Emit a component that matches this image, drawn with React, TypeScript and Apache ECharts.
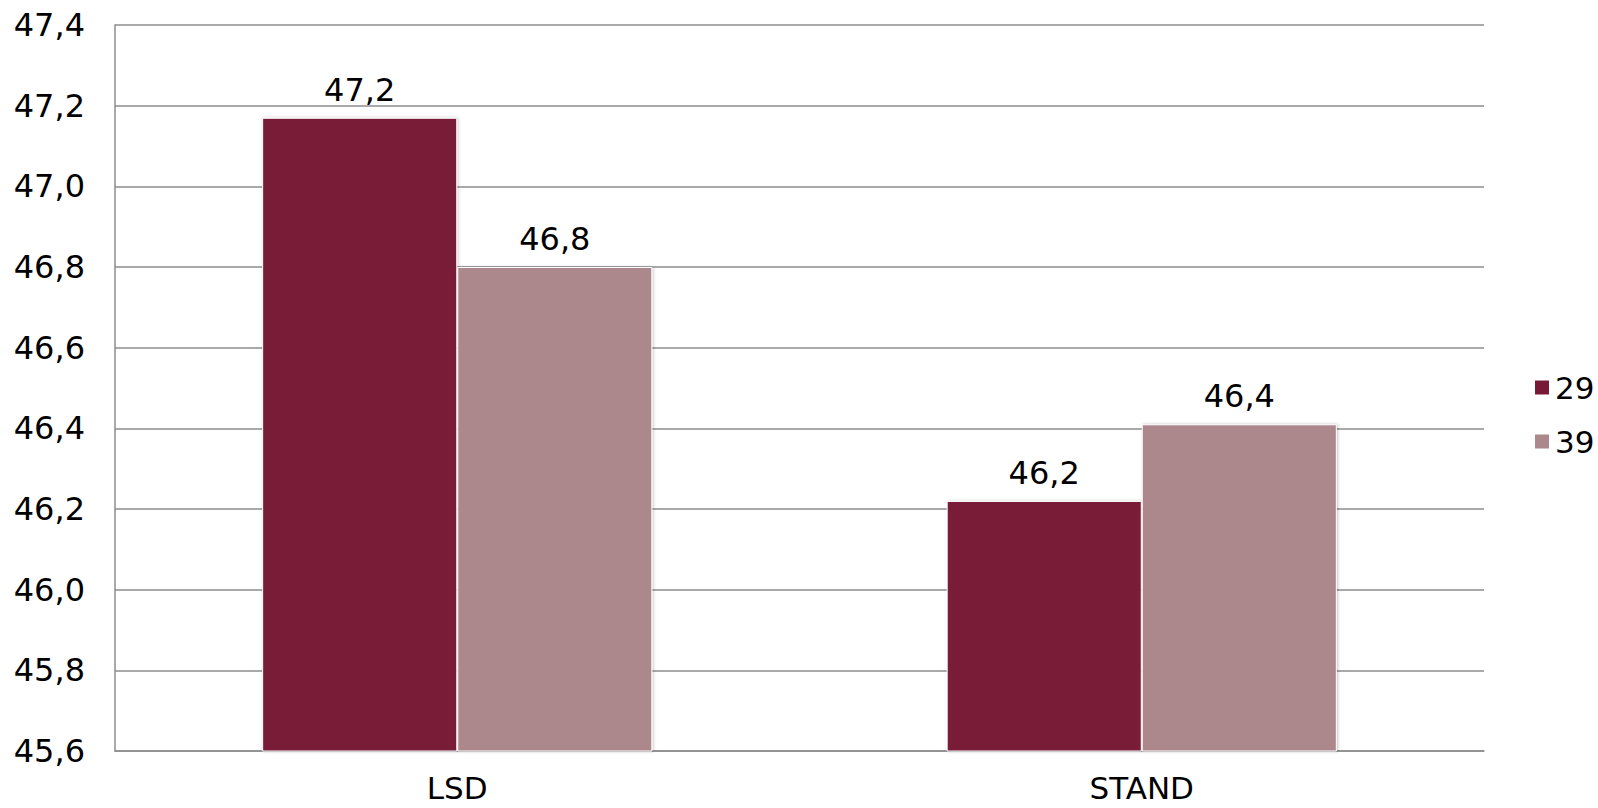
import React, { useEffect, useRef } from "react";
import * as echarts from "echarts";

const categories = ["LSD", "STAND"];
const seriesNames = ["29", "39"];
const values29 = [47.17, 46.22];
const values39 = [46.8, 46.41];
const yMin = 45.6;
const yMax = 47.4;
const yStep = 0.2;

const FONT = "'DejaVu Sans', Verdana, sans-serif";
const fmt = (v: number) => v.toFixed(1).replace(".", ",");

export default function App() {
  const ref = useRef<HTMLDivElement>(null);
  useEffect(() => {
    document.body.style.margin = "0";
    const chart = echarts.init(ref.current!, null, { renderer: "svg" });
    const barStyle = (color: string) => ({
      color,
      borderColor: "#ffffff",
      borderWidth: 1,
      shadowColor: "rgba(0,0,0,0.25)",
      shadowBlur: 3,
      shadowOffsetX: 1,
      shadowOffsetY: 0,
    });
    const label = {
      show: true,
      position: "top",
      distance: 12,
      fontFamily: FONT,
      fontSize: 32,
      color: "#000",
      formatter: (p: any) => fmt(p.value),
    };
    chart.setOption({
      animation: false,
      backgroundColor: "#ffffff",
      grid: { left: 115, right: 114, top: 25, bottom: 57, containLabel: false },
      legend: {
        orient: "vertical",
        left: 1528,
        top: 367,
        itemWidth: 16,
        itemHeight: 16,
        itemGap: 23,
        icon: "rect",
        textStyle: { fontFamily: FONT, fontSize: 31, color: "#000" },
        data: seriesNames,
      },
      xAxis: {
        type: "category",
        data: categories,
        axisTick: { show: false },
        axisLine: { show: true, lineStyle: { color: "#8c8c8c", width: 1.5 } },
        axisLabel: {
          fontFamily: FONT,
          fontSize: 31,
          lineHeight: 24,
          color: "#000",
          margin: 25,
        },
      },
      yAxis: {
        type: "value",
        min: yMin,
        max: yMax,
        interval: yStep,
        axisLine: { show: true, lineStyle: { color: "#8c8c8c", width: 1.5 } },
        axisTick: { show: false },
        splitLine: { show: true, lineStyle: { color: "#8c8c8c", width: 1.5 } },
        axisLabel: {
          fontFamily: FONT,
          fontSize: 32,
          color: "#000",
          margin: 30,
          formatter: (v: number) => fmt(v),
        },
      },
      series: [
        {
          name: seriesNames[0],
          type: "bar",
          data: values29,
          barGap: "0%",
          barCategoryGap: "43%",
          itemStyle: barStyle("#781a37"),
          label,
        },
        {
          name: seriesNames[1],
          type: "bar",
          data: values39,
          barGap: "0%",
          barCategoryGap: "43%",
          itemStyle: barStyle("#ac878b"),
          label,
        },
      ],
    });
    return () => chart.dispose();
  }, []);
  return <div ref={ref} style={{ width: 1598, height: 808 }} />;
}
